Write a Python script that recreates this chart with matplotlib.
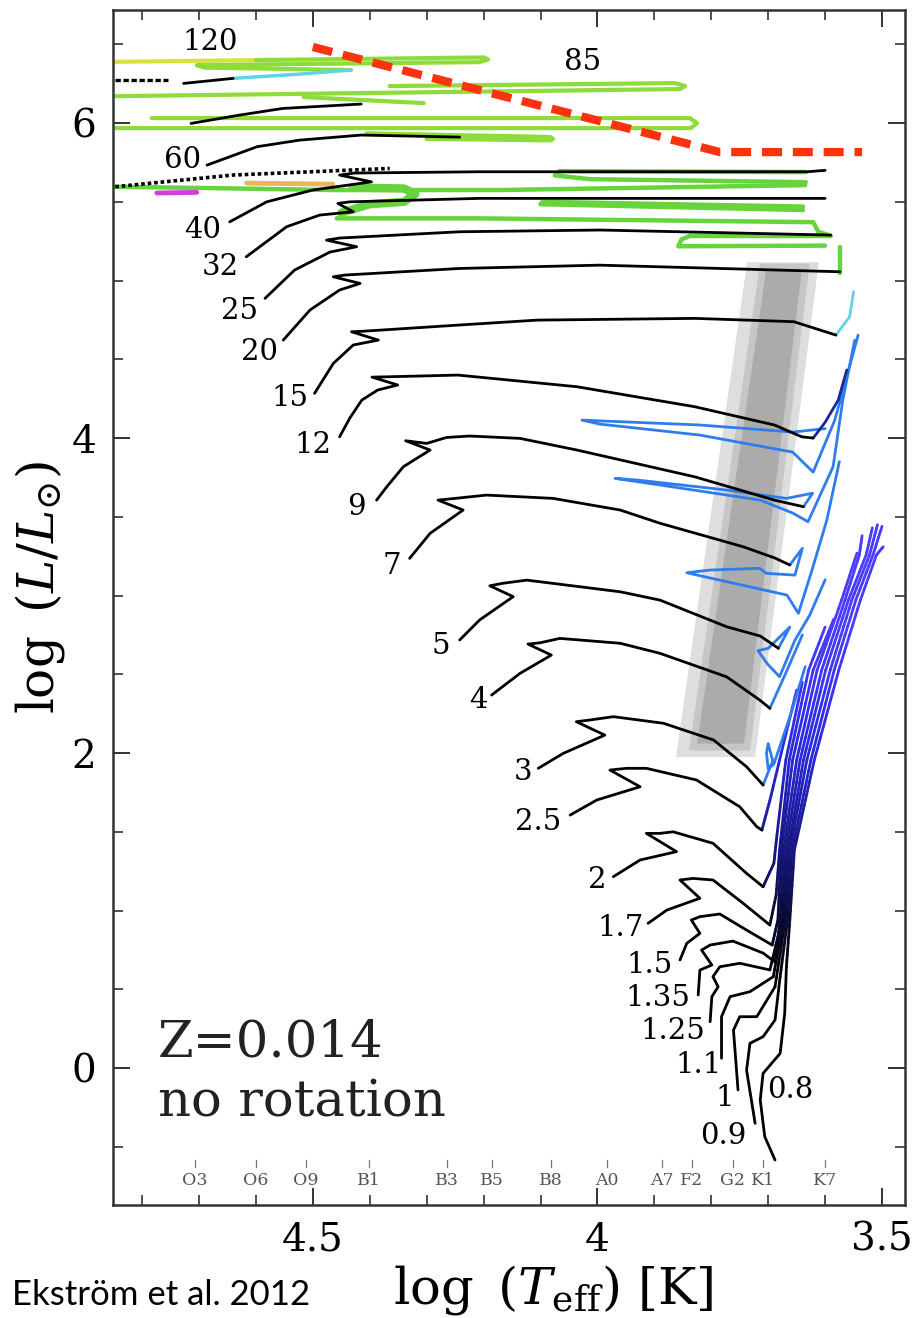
import numpy as np
import matplotlib.pyplot as plt
from matplotlib.collections import LineCollection
from matplotlib.colors import LinearSegmentedColormap
from matplotlib.patches import Polygon
from matplotlib.ticker import MultipleLocator

plt.rcParams['font.family'] = 'DejaVu Serif'
plt.rcParams['mathtext.fontset'] = 'dejavuserif'

# ---- black parts of the tracks: (log Teff, log L) ----
m120_T = [4.727, 4.640]
m120_L = [6.252, 6.284]
m85_T = [4.714, 4.630, 4.553, 4.415]
m85_L = [5.998, 6.050, 6.093, 6.121]
m60_T = [4.686, 4.598, 4.523, 4.415, 4.242]
m60_L = [5.733, 5.850, 5.892, 5.924, 5.911]
m40_T = [4.646, 4.581, 4.500, 4.397, 4.453, 4.426, 4.207, 3.632, 3.600]
m40_L = [5.373, 5.500, 5.575, 5.627, 5.670, 5.683, 5.691, 5.691, 5.700]
m32_T = [4.617, 4.546, 4.488, 4.429, 4.456, 4.435, 4.207, 3.600]
m32_L = [5.151, 5.342, 5.416, 5.437, 5.490, 5.500, 5.522, 5.522]
m25_T = [4.584, 4.532, 4.470, 4.423, 4.476, 4.453, 4.242, 3.996, 3.590]
m25_L = [4.887, 5.067, 5.181, 5.215, 5.257, 5.270, 5.310, 5.321, 5.289]
m20_T = [4.552, 4.505, 4.453, 4.417, 4.464, 4.444, 4.242, 3.996, 3.574]
m20_L = [4.622, 4.813, 4.940, 4.982, 5.024, 5.035, 5.077, 5.098, 5.056]
m15_T = [4.497, 4.464, 4.429, 4.385, 4.432, 4.409, 4.242, 4.106, 3.829, 3.655, 3.581]
m15_L = [4.284, 4.474, 4.591, 4.622, 4.675, 4.679, 4.718, 4.749, 4.760, 4.739, 4.654]
m12_T = [4.453, 4.435, 4.414, 4.386, 4.351, 4.396, 4.370, 4.245, 4.036, 3.829, 3.689, 3.641, 3.621]
m12_L = [4.008, 4.127, 4.241, 4.305, 4.337, 4.387, 4.389, 4.400, 4.326, 4.199, 4.083, 4.008, 4.000]
m9_T = [4.388, 4.370, 4.341, 4.294, 4.337, 4.300, 4.265, 4.224, 4.136, 4.036, 3.829, 3.689, 3.638]
m9_L = [3.606, 3.691, 3.818, 3.924, 3.983, 3.966, 4.004, 4.013, 3.998, 3.924, 3.754, 3.606, 3.564]
m7_T = [4.330, 4.294, 4.236, 4.280, 4.250, 4.195, 4.078, 3.960, 3.890, 3.744, 3.688, 3.662]
m7_L = [3.236, 3.395, 3.543, 3.606, 3.617, 3.638, 3.617, 3.543, 3.459, 3.310, 3.238, 3.194]
m5_T = [4.242, 4.207, 4.148, 4.189, 4.166, 4.124, 3.960, 3.890, 3.773, 3.714, 3.682]
m5_L = [2.718, 2.845, 2.993, 3.062, 3.078, 3.098, 3.024, 2.971, 2.802, 2.743, 2.665]
m4_T = [4.186, 4.136, 4.081, 4.122, 4.101, 4.066, 3.960, 3.890, 3.773, 3.715, 3.697]
m4_L = [2.368, 2.506, 2.622, 2.692, 2.700, 2.728, 2.697, 2.633, 2.484, 2.337, 2.284]
m3_T = [4.104, 4.060, 3.987, 4.037, 4.013, 3.972, 3.884, 3.796, 3.738, 3.709]
m3_L = [1.903, 1.998, 2.114, 2.199, 2.210, 2.231, 2.189, 2.083, 1.913, 1.797]
m2p5_T = [4.048, 4.001, 3.925, 3.978, 3.949, 3.914, 3.826, 3.750, 3.720, 3.711]
m2p5_L = [1.606, 1.702, 1.786, 1.892, 1.903, 1.903, 1.829, 1.659, 1.532, 1.511]
m2_T = [3.972, 3.925, 3.861, 3.914, 3.890, 3.867, 3.797, 3.738, 3.709]
m2_L = [1.215, 1.321, 1.374, 1.490, 1.490, 1.500, 1.427, 1.236, 1.151]
m1p7_T = [3.911, 3.878, 3.820, 3.855, 3.832, 3.797, 3.744, 3.697]
m1p7_L = [0.919, 1.003, 1.078, 1.194, 1.204, 1.194, 1.046, 0.908]
m1p5_T = [3.855, 3.843, 3.820, 3.835, 3.820, 3.785, 3.738, 3.693]
m1p5_L = [0.686, 0.792, 0.855, 0.940, 0.961, 0.978, 0.876, 0.781]
m1p35_T = [3.823, 3.820, 3.799, 3.817, 3.802, 3.762, 3.709, 3.688]
m1p35_L = [0.464, 0.622, 0.654, 0.749, 0.781, 0.806, 0.730, 0.673]
m1p25_T = [3.802, 3.799, 3.788, 3.797, 3.785, 3.750, 3.697]
m1p25_L = [0.294, 0.453, 0.516, 0.580, 0.643, 0.665, 0.623]
m1p1_T = [3.782, 3.782, 3.767, 3.732, 3.691]
m1p1_L = [0.062, 0.326, 0.453, 0.485, 0.580]
m1_T = [3.753, 3.761, 3.750, 3.720, 3.688]
m1_L = [-0.139, 0.241, 0.326, 0.326, 0.516]
m0p9_T = [3.723, 3.738, 3.732, 3.709, 3.688, 3.679]
m0p9_L = [-0.351, -0.013, 0.157, 0.199, 0.305, 0.580]
m0p8_T = [3.688, 3.706, 3.714, 3.709, 3.679, 3.671, 3.668]
m0p8_L = [-0.584, -0.436, -0.203, -0.034, 0.093, 0.347, 0.643]

# ---- red giant branches of the low masses ----
rgb08_T = [3.668, 3.662, 3.654, 3.619, 3.576, 3.538, 3.510, 3.498]
rgb08_L = [0.643, 0.940, 1.384, 1.956, 2.527, 2.972, 3.257, 3.310]
rgb09_T = [3.679, 3.666, 3.658, 3.625, 3.584, 3.546, 3.516, 3.500]
rgb09_L = [0.580, 0.940, 1.384, 1.956, 2.527, 2.972, 3.257, 3.440]
rgb10_T = [3.688, 3.670, 3.662, 3.632, 3.591, 3.553, 3.522, 3.508]
rgb10_L = [0.516, 0.940, 1.384, 1.956, 2.527, 2.972, 3.257, 3.450]
rgb11_T = [3.691, 3.673, 3.665, 3.638, 3.599, 3.559, 3.528, 3.517]
rgb11_L = [0.580, 0.940, 1.384, 1.956, 2.527, 2.972, 3.257, 3.430]
rgb125_T = [3.697, 3.676, 3.669, 3.644, 3.606, 3.565, 3.540, 3.535]
rgb125_L = [0.623, 0.940, 1.384, 1.956, 2.527, 2.972, 3.257, 3.380]
rgb135_T = [3.688, 3.679, 3.673, 3.650, 3.614, 3.571, 3.544]
rgb135_L = [0.673, 0.940, 1.384, 1.956, 2.527, 2.972, 3.270]
rgb15_T = [3.693, 3.683, 3.677, 3.657, 3.621, 3.585]
rgb15_L = [0.781, 0.940, 1.384, 1.956, 2.527, 2.850]
rgb17_T = [3.697, 3.686, 3.680, 3.663, 3.629, 3.600]
rgb17_L = [0.908, 1.100, 1.384, 1.956, 2.527, 2.800]
rgb2_T = [3.709, 3.690, 3.684, 3.669, 3.640]
rgb2_L = [1.151, 1.300, 1.500, 1.956, 2.450]
rgb2p5_T = [3.711, 3.697, 3.680, 3.650]
rgb2p5_L = [1.511, 1.700, 1.956, 2.400]

# ---- blue loops of intermediate masses ----
b12_T = [3.621, 3.600, 3.577, 3.562]
b12_L = [4.000, 4.100, 4.241, 4.432]
loop12_T = [3.600, 3.657, 3.820, 4.027, 3.996, 3.820, 3.657, 3.621, 3.583, 3.542]
loop12_L = [4.060, 4.038, 4.083, 4.114, 4.089, 4.019, 3.911, 3.784, 4.114, 4.654]
loop9_T = [3.638, 3.622, 3.668, 3.773, 3.931, 3.969, 3.890, 3.714, 3.657, 3.630, 3.586, 3.569, 3.548]
loop9_L = [3.564, 3.650, 3.617, 3.670, 3.734, 3.744, 3.702, 3.606, 3.524, 3.469, 3.818, 4.241, 4.622]
loop7_T = [3.662, 3.640, 3.653, 3.703, 3.715, 3.802, 3.843, 3.773, 3.667, 3.647, 3.623, 3.597, 3.575]
loop7_L = [3.194, 3.300, 3.130, 3.141, 3.173, 3.162, 3.145, 3.088, 3.003, 2.887, 3.162, 3.479, 3.850]
loop5_T = [3.682, 3.662, 3.700, 3.718, 3.700, 3.680, 3.653, 3.627, 3.600]
loop5_L = [2.665, 2.800, 2.665, 2.650, 2.560, 2.485, 2.717, 2.876, 3.100]
loop4_T = [3.697, 3.670, 3.640]
loop4_L = [2.284, 2.500, 2.750]
loop3_T = [3.709, 3.692, 3.700, 3.703, 3.700, 3.690, 3.660, 3.635]
loop3_L = [1.797, 1.950, 2.060, 2.000, 1.900, 1.930, 2.250, 2.548]
cyan15_T = [3.581, 3.557, 3.550]
cyan15_L = [4.654, 4.770, 4.929]

# ---- late phases of the massive stars ----
y120_T = [4.847, 4.600]
y120_L = [6.389, 6.400]
g120_T = [4.600, 4.199, 4.192, 4.207, 4.704, 4.690, 4.433]
g120_L = [6.400, 6.417, 6.404, 6.387, 6.368, 6.352, 6.337]
c120_T = [4.640, 4.523, 4.433]
c120_L = [6.284, 6.311, 6.337]
d120_T = [4.847, 4.755]
d120_L = [6.273, 6.273]
g85a_T = [4.846, 3.855, 3.846, 3.864, 4.365]
g85a_L = [6.171, 6.216, 6.235, 6.254, 6.235]
g85b_T = [4.516, 4.305]
g85b_L = [6.165, 6.127]
g85c_T = [4.846, 3.836, 3.825, 3.838, 4.783]
g85c_L = [5.968, 5.968, 6.000, 6.032, 6.032]
g60_T = [4.406, 4.083, 4.078, 4.083, 4.300]
g60_L = [5.935, 5.912, 5.900, 5.890, 5.900]
gleft_T = [4.851, 4.640, 4.465, 4.171, 3.635]
gleft_L = [5.596, 5.585, 5.575, 5.575, 5.606]
g40_T = [3.634, 4.066, 4.075, 4.013, 3.634]
g40_L = [5.689, 5.695, 5.668, 5.644, 5.625]
gblob_T = [4.430, 4.340, 4.320, 4.340, 4.400, 4.450]
gblob_L = [5.590, 5.585, 5.550, 5.500, 5.485, 5.430]
g32_T = [3.639, 4.096, 4.100, 3.639]
g32_L = [5.470, 5.500, 5.485, 5.448]
g32b_T = [4.458, 4.207, 3.621, 3.612, 3.595]
g32b_L = [5.395, 5.395, 5.371, 5.310, 5.290]
g25_T = [3.590, 3.838, 3.852, 3.858, 3.600]
g25_L = [5.283, 5.283, 5.262, 5.218, 5.222]
g20_T = [3.574, 3.574]
g20_L = [5.046, 5.213]
dot_T = [4.847, 4.641, 4.365]
dot_L = [5.596, 5.670, 5.712]
mag_T = [4.774, 4.704]
mag_L = [5.556, 5.560]
org_T = [4.616, 4.465]
org_L = [5.619, 5.612]

# instability strip
band_in_T = [3.709, 3.634, 3.737, 3.832]
band_in_L = [5.086, 5.086, 2.038, 2.038]
band_out_T = [3.737, 3.611, 3.723, 3.862]
band_out_L = [5.117, 5.117, 1.975, 1.975]

# red dashed limit
hd_T = [4.500, 3.785, 3.535]
hd_L = [6.483, 5.816, 5.816]

# mass labels
mass_labels = ['120', '85', '60', '40', '32', '25', '20', '15', '12', '9', '7', '5', '4', '3',
               '2.5', '2', '1.7', '1.5', '1.35', '1.25', '1.1', '1', '0.9', '0.8']
mass_T = [4.681, 4.027, 4.728, 4.693, 4.663, 4.628, 4.593, 4.540, 4.500, 4.423, 4.361, 4.275,
          4.210, 4.131, 4.105, 4.001, 3.960, 3.908, 3.894, 3.867, 3.823, 3.776, 3.778, 3.662]
mass_L = [6.514, 6.387, 5.765, 5.321, 5.086, 4.806, 4.546, 4.254, 3.956, 3.562, 3.187, 2.679,
          2.337, 1.879, 1.562, 1.194, 0.889, 0.654, 0.444, 0.235, 0.019, -0.190, -0.432, -0.140]

# spectral types
sp_labels = ['O3', 'O6', 'O9', 'B1', 'B3', 'B5', 'B8', 'A0', 'A7', 'F2', 'G2', 'K1', 'K7']
sp_T = [4.707, 4.600, 4.512, 4.402, 4.264, 4.185, 4.082, 3.983, 3.887, 3.834, 3.762, 3.709, 3.600]

fig = plt.figure(figsize=(9.19, 13.18), dpi=100)
ax = fig.add_axes([0.1230, 0.0857, 0.8618, 0.9067])
ax.set_xlim(4.851, 3.4596)
ax.set_ylim(-0.870, 6.718)

ax.add_patch(Polygon(np.column_stack([band_out_T, band_out_L]), closed=True,
                     fc='#dedede', ec='none', zorder=0.5))
ax.add_patch(Polygon(np.column_stack([band_in_T, band_in_L]), closed=True,
                     fc='#ababab', ec='#c6c6c6', lw=5, zorder=0.6))

GREEN = '#66d43c'
LIME = '#8edc3a'
BLUE = '#2f7ded'
CYAN = '#5fd3ea'

rgb_cmap = LinearSegmentedColormap.from_list('rgb', ['#000000', '#141478', '#2a2ae2', '#4a3cff'])


def grad_line(T, L, lw=2.0):
    pts = np.column_stack([T, L])
    segs, cols = [], []
    for a, b in zip(pts[:-1], pts[1:]):
        f = np.linspace(0, 1, 9)
        sub = a[None, :] + (b - a)[None, :] * f[:, None]
        for p, q in zip(sub[:-1], sub[1:]):
            segs.append([p, q])
            cols.append(rgb_cmap(np.clip(((p[1] + q[1]) / 2 - 0.6) / 2.2, 0, 1)))
    ax.add_collection(LineCollection(segs, colors=cols, linewidths=lw,
                                     capstyle='round', zorder=2))


for T, L in [(rgb08_T, rgb08_L), (rgb09_T, rgb09_L), (rgb10_T, rgb10_L), (rgb11_T, rgb11_L),
             (rgb125_T, rgb125_L), (rgb135_T, rgb135_L), (rgb15_T, rgb15_L), (rgb17_T, rgb17_L),
             (rgb2_T, rgb2_L), (rgb2p5_T, rgb2p5_L)]:
    grad_line(T, L)

kw = dict(solid_capstyle='round', solid_joinstyle='round')
for T, L in [(loop12_T, loop12_L), (loop9_T, loop9_L), (loop7_T, loop7_L), (loop5_T, loop5_L),
             (loop4_T, loop4_L), (loop3_T, loop3_L)]:
    ax.plot(T, L, color=BLUE, lw=2.0, zorder=2.2, **kw)
ax.plot(b12_T, b12_L, color='#1a2a9a', lw=2.0, zorder=2.3, **kw)
ax.plot(cyan15_T, cyan15_L, color=CYAN, lw=2.0, zorder=2.3, **kw)

# massive stars
ax.plot(y120_T, y120_L, color='#d6e43a', lw=3.0, zorder=2, **kw)
for T, L in [(g120_T, g120_L), (g85a_T, g85a_L), (g85b_T, g85b_L), (g85c_T, g85c_L), (g60_T, g60_L)]:
    ax.plot(T, L, color=LIME, lw=3.0, zorder=2, **kw)
ax.plot(c120_T, c120_L, color=CYAN, lw=2.5, zorder=2.4, **kw)
for T, L in [(gleft_T, gleft_L), (g40_T, g40_L), (g32_T, g32_L), (g32b_T, g32b_L),
             (g25_T, g25_L), (g20_T, g20_L)]:
    ax.plot(T, L, color=GREEN, lw=3.2, zorder=2.1, **kw)
ax.plot(gblob_T, gblob_L, color=GREEN, lw=6, zorder=2.1, **kw)
ax.plot(mag_T, mag_L, color='#d040d8', lw=3.5, zorder=2.2, **kw)
ax.plot(org_T, org_L, color='#e9b75a', lw=3.5, zorder=2.2, **kw)
ax.plot(dot_T, dot_L, color='black', lw=2.6, ls=(0, (1.0, 0.8)), zorder=3)
ax.plot(d120_T, d120_L, color='black', lw=2.4, ls=(0, (1.6, 0.8)), zorder=3)

for T, L in [(m120_T, m120_L), (m85_T, m85_L), (m60_T, m60_L), (m40_T, m40_L), (m32_T, m32_L),
             (m25_T, m25_L), (m20_T, m20_L), (m15_T, m15_L), (m12_T, m12_L), (m9_T, m9_L),
             (m7_T, m7_L), (m5_T, m5_L), (m4_T, m4_L), (m3_T, m3_L), (m2p5_T, m2p5_L),
             (m2_T, m2_L), (m1p7_T, m1p7_L), (m1p5_T, m1p5_L), (m1p35_T, m1p35_L),
             (m1p25_T, m1p25_L), (m1p1_T, m1p1_L), (m1_T, m1_L), (m0p9_T, m0p9_L),
             (m0p8_T, m0p8_L)]:
    ax.plot(T, L, color='black', lw=2.0, zorder=3, **kw)

ax.plot(hd_T, hd_L, color='#ff3210', lw=6, ls=(0, (2.4, 1.3)), zorder=5, solid_capstyle='butt')

for lab, T, L in zip(mass_labels, mass_T, mass_L):
    ax.text(T, L, lab, fontsize=21, ha='center', va='center', zorder=4)

for lab, T in zip(sp_labels, sp_T):
    ax.plot([T, T], [-0.585, -0.630], color='#777777', lw=0.9, zorder=1)
    ax.text(T, -0.712, lab, fontsize=12.5, color='#555555', ha='center', va='center')

ax.text(4.772, 0.159, 'Z=0.014', fontsize=37, ha='left', va='center', color='#222222')
ax.text(4.772, -0.222, 'no rotation', fontsize=37, ha='left', va='center', color='#222222')

# axes styling
ax.xaxis.set_minor_locator(MultipleLocator(0.1))
ax.yaxis.set_minor_locator(MultipleLocator(0.5))
ax.set_xticks([4.5, 4.0, 3.5])
ax.set_xticklabels(['4.5', '4', '3.5'])
ax.set_yticks([0, 2, 4, 6])
ax.set_yticklabels(['0', '2', '4', '6'])
ax.tick_params(which='both', direction='in', top=True, right=True, labelsize=28, color='#333333')
ax.tick_params(which='major', length=12, width=1.4, pad=12)
ax.tick_params(which='minor', length=7, width=1.2)
for s in ax.spines.values():
    s.set_linewidth(1.8)
    s.set_color('#333333')

fig.text(40 / 919, 1 - 588 / 1318, r'$\log\ (L/L_{\odot})$', rotation=90, fontsize=36,
         ha='center', va='center')
fig.text(553 / 919, 1 - 1290 / 1318, r'$\log\ (T_{\rm eff})\ [\rm K]$', fontsize=37,
         ha='center', va='center')
fig.text(12 / 919, 1 - 1305 / 1318, 'Ekström et al. 2012', fontsize=25,
         family=['Liberation Sans Narrow', 'Lato', 'DejaVu Sans'], ha='left', va='baseline')

fig.savefig('out.png', dpi=100)
